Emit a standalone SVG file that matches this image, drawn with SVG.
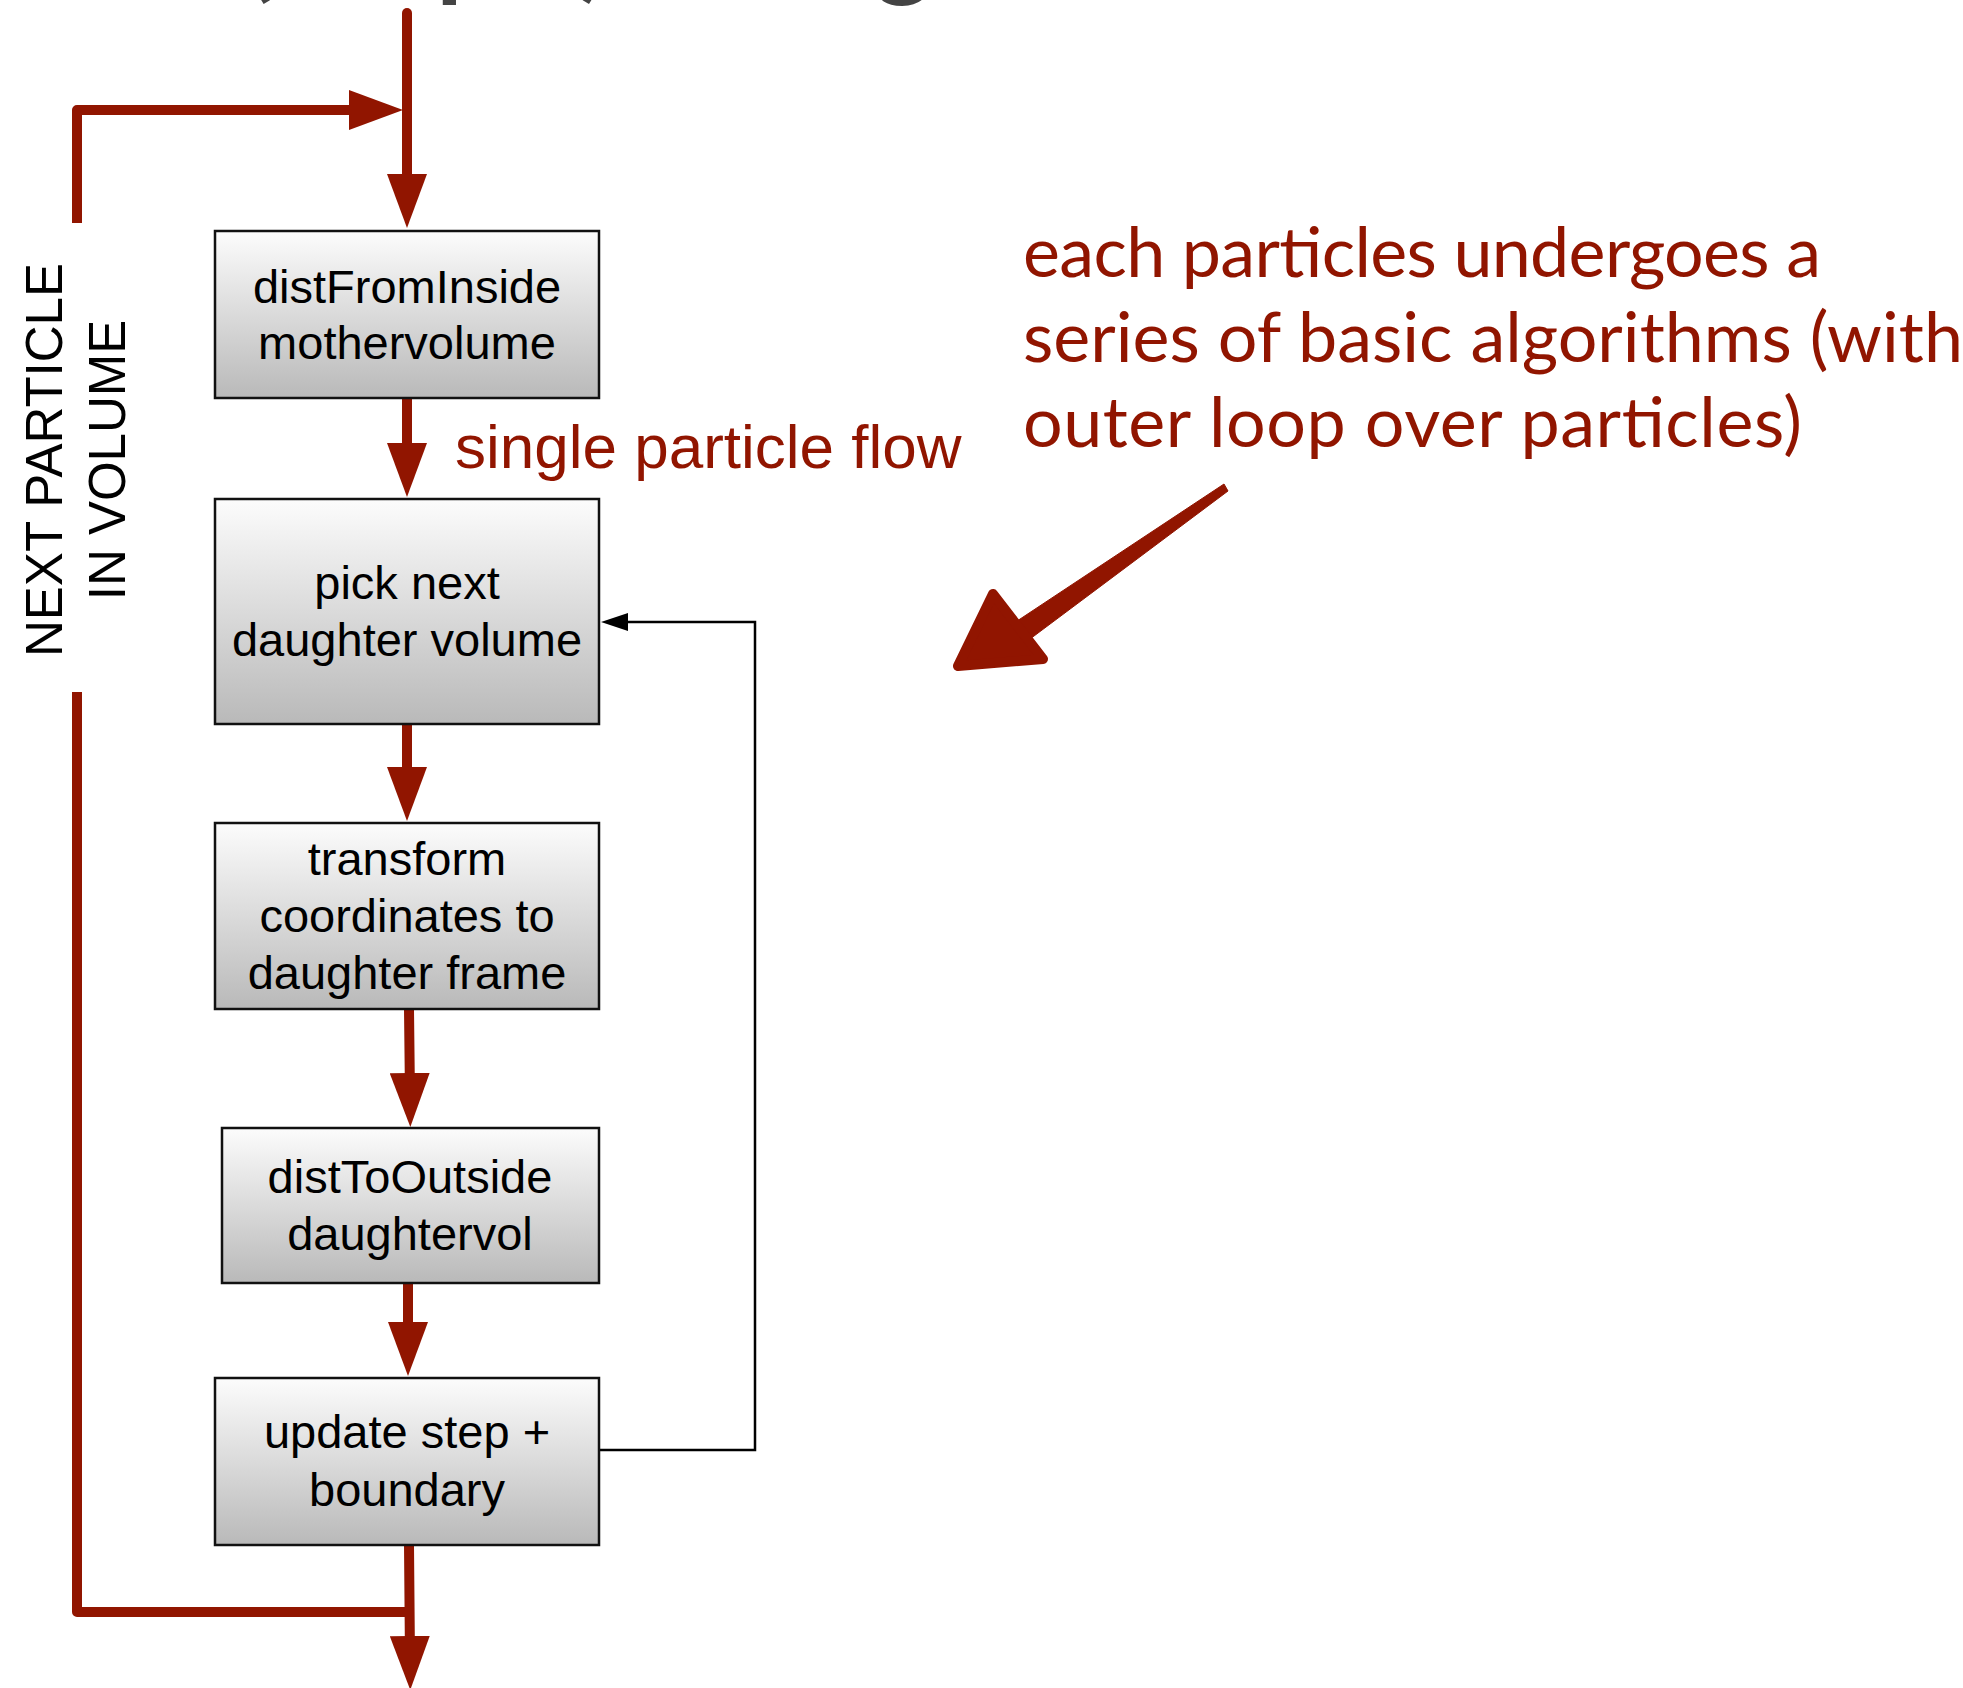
<svg xmlns="http://www.w3.org/2000/svg" width="1963" height="1688" viewBox="0 0 1963 1688">
<defs>
<style>
.box{fill:url(#g);stroke:#111;stroke-width:2.5}
.bt{font-family:"Liberation Sans",Arial,sans-serif;font-size:47px;fill:#000;text-anchor:middle}
.red{fill:none;stroke:#911500;stroke-width:10}
.blk{fill:none;stroke:#000;stroke-width:2.5}
.vt{font-family:"Liberation Sans",Arial,sans-serif;font-size:51px;fill:#000;text-anchor:middle}
.note{font-family:Lato,"Open Sans",sans-serif;font-size:70px;fill:#911500}
</style>
<linearGradient id="g" x1="0" y1="0" x2="0" y2="1">
<stop offset="0" stop-color="#fcfcfc"/>
<stop offset="1" stop-color="#b9b9b9"/>
</linearGradient>
<marker id="ra" viewBox="0 0 54 40" refX="24" refY="20" markerWidth="54" markerHeight="40" markerUnits="userSpaceOnUse" orient="auto">
<path d="M0,0 L54,20 L0,40 z" fill="#911500"/>
</marker>
<marker id="ba" viewBox="0 0 27 18" refX="20" refY="9" markerWidth="27" markerHeight="18" markerUnits="userSpaceOnUse" orient="auto">
<path d="M0,0 L27,9 L0,18 z" fill="#000"/>
</marker>
</defs>
<rect width="1963" height="1688" fill="#fff"/>
<text x="245" y="-13" font-family="Lato,sans-serif" font-weight="bold" font-size="107" fill="#444">(simple)<tspan x="794">algorithm</tspan></text>

<g id="connectors">
<path class="red" d="M407,13 L407,198" stroke-linecap="round" marker-end="url(#ra)"/>
<path class="red" d="M77,223 L77,110 L373,110" stroke-width="11" stroke-linejoin="round" marker-end="url(#ra)"/>
<path class="red" d="M407,398 L407,467" marker-end="url(#ra)"/>
<path class="red" d="M407,724 L407,791" marker-end="url(#ra)"/>
<path class="red" d="M409,1009 L410,1097" stroke-linecap="round" marker-end="url(#ra)"/>
<path class="red" d="M408,1283 L408,1346" stroke-linecap="round" marker-end="url(#ra)"/>
<path class="red" d="M409,1545 L410,1660" stroke-linecap="round" marker-end="url(#ra)"/>
<path class="red" d="M77,692 L77,1612 L410,1612" stroke-width="11" stroke-linejoin="round"/>
<path class="blk" d="M599,1450 L755,1450 L755,622 L608,622" marker-end="url(#ba)"/>
</g>

<g id="n1"><rect class="box" x="215" y="231" width="384" height="167"/>
<text class="bt" x="407" y="303">distFromInside</text><text class="bt" x="407" y="359">mothervolume</text></g>
<g id="n2"><rect class="box" x="215" y="499" width="384" height="225"/>
<text class="bt" x="407" y="599">pick next</text><text class="bt" x="407" y="656">daughter volume</text></g>
<g id="n3"><rect class="box" x="215" y="823" width="384" height="186"/>
<text class="bt" x="407" y="875">transform</text><text class="bt" x="407" y="932">coordinates to</text><text class="bt" x="407" y="989">daughter frame</text></g>
<g id="n4"><rect class="box" x="222" y="1128" width="377" height="155"/>
<text class="bt" x="410" y="1193">distToOutside</text><text class="bt" x="410" y="1250">daughtervol</text></g>
<g id="n5"><rect class="box" x="215" y="1378" width="384" height="167"/>
<text class="bt" x="407" y="1448">update step +</text><text class="bt" x="407" y="1506">boundary</text></g>

<g id="labels">
<text class="vt" transform="rotate(-90)" x="-460" y="62">NEXT PARTICLE</text>
<text class="vt" transform="rotate(-90)" x="-460" y="125">IN VOLUME</text>
<text x="455" y="468" font-family="'Liberation Sans',Arial,sans-serif" font-size="62" fill="#911500">single particle flow</text>
<text class="note" x="1023" y="277" textLength="798">each particles undergoes a</text>
<text class="note" x="1023" y="362" textLength="940">series of basic algorithms (with</text>
<text class="note" x="1023" y="447" textLength="779">outer loop over particles)</text>
</g>

<g id="sketch-arrow" fill="#911500" stroke="#911500">
<path d="M1224,484 L1228,491 L1022,645 L1008,627 z" stroke-width="1" stroke-linejoin="round"/>
<path d="M993,594 L958,666 L1043,659 z" stroke-width="10" stroke-linejoin="round"/>
</g>
</svg>
